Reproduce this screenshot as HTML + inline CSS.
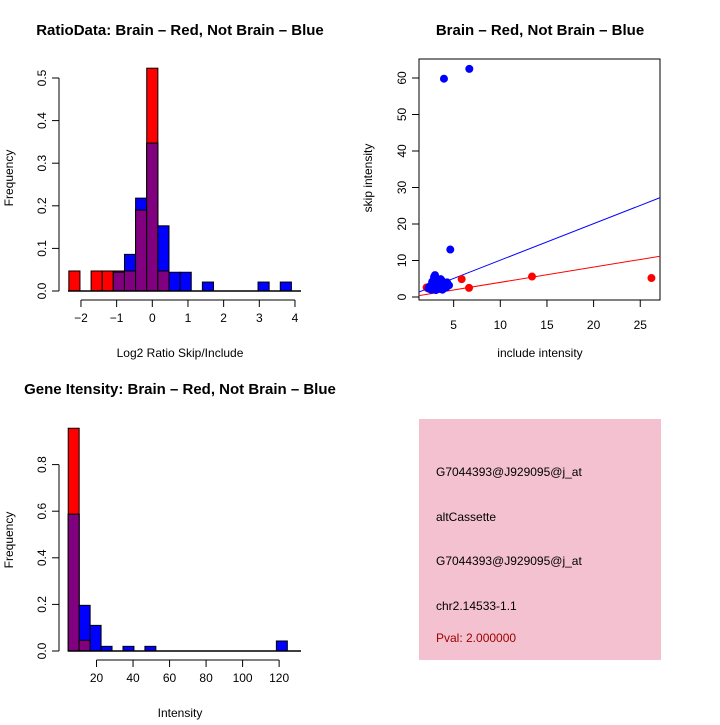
<!DOCTYPE html>
<html><head><meta charset="utf-8"><style>
body{margin:0;background:#fff;width:720px;height:720px;overflow:hidden}
svg text{font-family:"Liberation Sans",sans-serif}
</style></head><body>
<svg id="s" width="720" height="720" xmlns="http://www.w3.org/2000/svg">
<text x="180" y="35" font-size="15" font-weight="bold" text-anchor="middle">RatioData: Brain – Red, Not Brain – Blue</text>
<text x="540" y="35" font-size="15" font-weight="bold" text-anchor="middle">Brain – Red, Not Brain – Blue</text>
<text x="180" y="394" font-size="15" font-weight="bold" text-anchor="middle">Gene Itensity: Brain – Red, Not Brain – Blue</text>
<text x="180" y="357" font-size="12" text-anchor="middle">Log2 Ratio Skip/Include</text>
<text transform="translate(13,178) rotate(-90)" font-size="12" text-anchor="middle">Frequency</text>
<text x="540" y="357" font-size="12" text-anchor="middle">include intensity</text>
<text transform="translate(372,178) rotate(-90)" font-size="12" text-anchor="middle">skip intensity</text>
<text x="180" y="717" font-size="12" text-anchor="middle">Intensity</text>
<text transform="translate(13,540) rotate(-90)" font-size="12" text-anchor="middle">Frequency</text>
<rect x="419" y="419" width="242" height="241" fill="#f3c1cf"/>
<g font-size="12">
<text x="436" y="476">G7044393@J929095@j_at</text>
<text x="436" y="521">altCassette</text>
<text x="436" y="565">G7044393@J929095@j_at</text>
<text x="436" y="610">chr2.14533-1.1</text>
<text x="436" y="642" fill="#a00000">Pval: 2.000000</text>
</g>
<g id="g1"></g><g id="g2"></g><g id="g3"></g>
</svg>
<script>
// Ratio histogram (bin index k, centre = k*0.312)
const ratioBins=[-7,-6,-5,-4,-3,-2,-1,0,1,2,3,4,5,6,7,8,9,10,11,12];
const ratioRed=[0.047,0,0.047,0.047,0.047,0.047,0.19,0.523,0.047,0,0,0,0,0,0,0,0,0,0,0];
const ratioBlue=[0,0,0,0,0.044,0.086,0.218,0.347,0.153,0.044,0.044,0,0.021,0,0,0,0,0.021,0,0.021];
const ratioYTicks=[0,0.1,0.2,0.3,0.4,0.5];
const ratioXTicks=[-2,-1,0,1,2,3,4];
// Intensity histogram (bins of width 6 starting 4.5)
const intBins=[0,1,2,3,4,5,6,7,8,9,10,11,12,13,14,15,16,17,18,19];
const intRed=[0.956,0.046,0,0,0,0,0,0,0,0,0,0,0,0,0,0,0,0,0,0];
const intBlue=[0.587,0.196,0.11,0.02,0,0.02,0,0.02,0,0,0,0,0,0,0,0,0,0,0,0.043];
const intYTicks=[0,0.2,0.4,0.6,0.8];
const intXTicks=[20,40,60,80,100,120];
// Scatter
const blueX=[3.96,6.68,4.64,2.3,2.5,2.7,2.9,3.1,3.3,3.5,3.7,3.9,4.1,4.3,4.5,2.6,2.8,3.0,3.2,3.4,3.6,3.8,4.0,2.4,2.9,3.1,3.3,3.5,2.7,3.0,3.6,4.2];
const blueY=[59.8,62.5,13,2.3,3.0,4.2,5.5,4.0,3.2,2.8,4.6,3.5,3.0,4.0,3.2,2.0,2.5,6.0,2.6,3.8,2.2,2.0,3.9,2.8,4.8,1.9,4.5,3.0,3.6,2.4,4.9,2.6];
const redX=[5.86,6.65,13.4,26.2,2.1];
const redY=[4.9,2.5,5.6,5.2,2.6];
const scXTicks=[5,10,15,20,25];
const scYTicks=[0,10,20,30,40,50,60];
const blueFit=[0.09,1.0], redFit=[-0.17,0.418];

const NS="http://www.w3.org/2000/svg";
function mk(p,t,a){const e=document.createElementNS(NS,t);for(const k in a)e.setAttribute(k,a[k]);p.appendChild(e);return e;}
function hist(g,bins,red,blue,xl,w,y0,ys,name){
  bins.forEach((k,i)=>{
    const x=xl(k);const both=Math.min(red[i],blue[i]);
    if(red[i]>0){const r=mk(g,'rect',{x:x,y:y0-red[i]*ys,width:w,height:red[i]*ys,fill:'#ff0000',stroke:'#000','stroke-width':1});
      
      }
    if(blue[i]>0){const r=mk(g,'rect',{x:x,y:y0-blue[i]*ys,width:w,height:blue[i]*ys,fill:'#0000ff',stroke:'#000','stroke-width':1});
      
      }
    if(both>0){const r=mk(g,'rect',{x:x,y:y0-both*ys,width:w,height:both*ys,fill:'#800080',stroke:'#000','stroke-width':1});
      
      }
  });
}
function yaxis(g,ticks,ys,y0,x,name){
  mk(g,'line',{x1:x,x2:x,y1:y0,y2:y0-ticks[ticks.length-1]*ys,stroke:'#000'});
  ticks.forEach(t=>{const y=y0-t*ys;mk(g,'line',{x1:x-7,x2:x,y1:y,y2:y,stroke:'#000'});
    const tx=mk(g,'text',{transform:`translate(${x-13},${y}) rotate(-90)`,'font-size':12,'text-anchor':'middle'});tx.textContent=t.toFixed(1);
    
    });
}
function xaxis(g,ticks,sx,y,name,fmt){
  mk(g,'line',{x1:sx(ticks[0]),x2:sx(ticks[ticks.length-1]),y1:y,y2:y,stroke:'#000'});
  ticks.forEach(t=>{const x=sx(t);mk(g,'line',{x1:x,x2:x,y1:y,y2:y+7,stroke:'#000'});
    const tx=mk(g,'text',{x:x,y:y+22,'font-size':12,'text-anchor':'middle'});tx.textContent=fmt?fmt(t):t;
    
    });
}
// Chart 1
const g1=document.getElementById('g1');
const u1=35.67,x01=152.3,bw1=0.312;
hist(g1,ratioBins,ratioRed,ratioBlue,k=>x01+(k-0.5)*bw1*u1,bw1*u1,291,426,'ratio');
mk(g1,'line',{x1:68,x2:301,y1:291,y2:291,stroke:'#000','stroke-width':1.5});
yaxis(g1,ratioYTicks,426,291,59,'ratio');
xaxis(g1,ratioXTicks,v=>x01+v*u1,300,'ratio',v=>v<0?'\u2212'+(-v):v);
// Chart 3
const g3=document.getElementById('g3');
const u3=1.826,x03=60;
hist(g3,intBins,intRed,intBlue,k=>x03+(4.5+6*k)*u3,6*u3,651,233,'intensity');
mk(g3,'line',{x1:68,x2:301,y1:651,y2:651,stroke:'#000','stroke-width':1.5});
yaxis(g3,intYTicks,233,651,59,'intensity');
xaxis(g3,intXTicks,v=>x03+v*u3,660,'intensity');
// Chart 2
const g2=document.getElementById('g2');
const sx=v=>407+v*9.33, sy=v=>297-v*3.65;
mk(g2,'rect',{x:419,y:59,width:241,height:241,fill:'none',stroke:'#000'});
const cl=mk(g2,'clipPath',{id:'c2'});mk(cl,'rect',{x:419,y:59,width:241,height:241});
const inner=mk(g2,'g',{'clip-path':'url(#c2)'});
[[blueFit,'#0000ff'],[redFit,'#ff0000']].forEach(([f,c])=>{
  const l=mk(inner,'line',{x1:sx(0),y1:sy(f[0]),x2:sx(30),y2:sy(f[0]+f[1]*30),stroke:c,'stroke-width':1});
  
  });
redX.forEach((x,i)=>{const c=mk(inner,'circle',{cx:sx(x),cy:sy(redY[i]),r:4,fill:'#ff0000'});
  
  });
blueX.forEach((x,i)=>{const c=mk(inner,'circle',{cx:sx(x),cy:sy(blueY[i]),r:4,fill:'#0000ff'});
  
  });
scYTicks.forEach(t=>{const y=sy(t);mk(g2,'line',{x1:412,x2:419,y1:y,y2:y,stroke:'#000'});
  const tx=mk(g2,'text',{transform:`translate(406,${y}) rotate(-90)`,'font-size':12,'text-anchor':'middle'});tx.textContent=t;
  
  });
scXTicks.forEach(t=>{const x=sx(t);mk(g2,'line',{x1:x,x2:x,y1:300,y2:307,stroke:'#000'});
  const tx=mk(g2,'text',{x:x,y:329,'font-size':12,'text-anchor':'middle'});tx.textContent=t;
  
  });
</script>
</body></html>
